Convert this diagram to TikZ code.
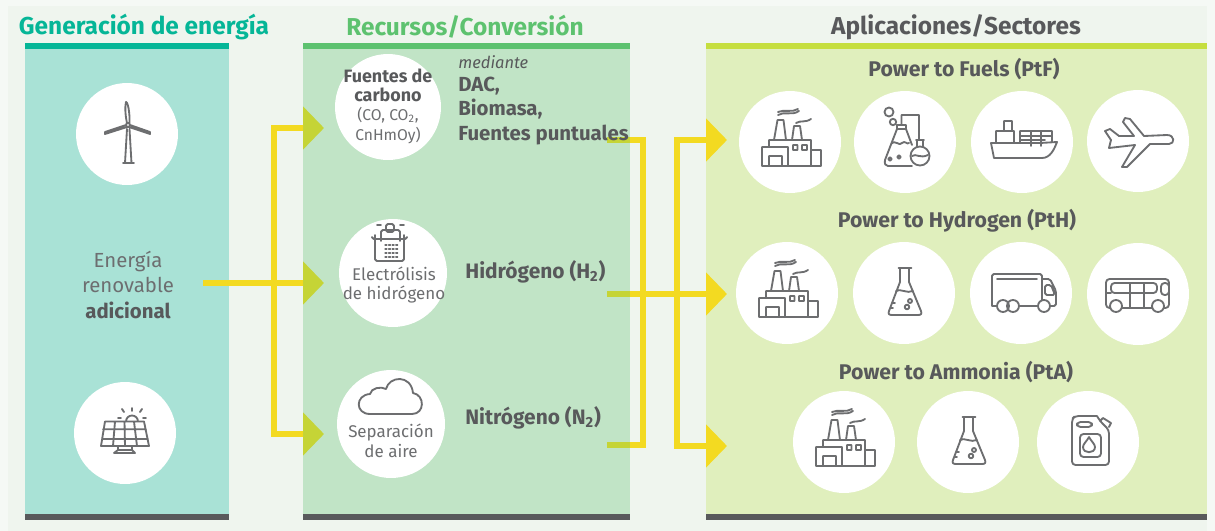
\documentclass[tikz,border=0pt]{standalone}
\usepackage{fontspec}
\setmainfont{Fira Sans}
\usepackage{tikz}
\usetikzlibrary{arrows.meta}
\definecolor{pagebg}{HTML}{F5F9F5}
\definecolor{innerbg}{HTML}{EFF5EE}
\definecolor{genfill}{HTML}{A9E2D6}
\definecolor{genbar}{HTML}{05B697}
\definecolor{convfill}{HTML}{C1E4C6}
\definecolor{convbar}{HTML}{5DC26F}
\definecolor{appfill}{HTML}{E0EFBD}
\definecolor{appbar}{HTML}{C5DE3F}
\definecolor{inkdark}{HTML}{58595B}
\definecolor{inklight}{HTML}{6D6E70}
\definecolor{flowyellow}{HTML}{F3DA21}
\definecolor{flowolive}{HTML}{C5D436}
\tikzset{
    disc/.style={circle, fill=white, minimum size=2.04cm, inner sep=0pt},
    heading/.style={font=\fontsize{13.9}{15}\selectfont\bfseries},
    bodytext/.style={text=inklight, align=center, font=\fontsize{11.6}{14.5}\selectfont},
    smalltext/.style={text=inklight, align=center, font=\fontsize{9.65}{11.2}\selectfont},
    tinytext/.style={text=inklight, align=center, font=\fontsize{8.9}{11}\selectfont},
    boldtext/.style={text=inkdark, anchor=west, inner sep=0pt, font=\fontsize{11.6}{13.9}\selectfont\bfseries},
    rowtitle/.style={text=inkdark, font=\fontsize{12.1}{13}\selectfont\bfseries},
    ink/.style={draw=inklight, line width=1.05pt, line join=round, line cap=round},
    wheel/.style={ink, fill=white},
    flow/.style={draw=flowyellow, line width=3pt},
    stub/.style={draw=flowolive, line width=3pt},
    oliveflow/.style={flow, -{Triangle[length=0.42cm, width=0.84cm, color=flowolive]}},
    yellowflow/.style={flow, -{Triangle[length=0.42cm, width=0.84cm, color=flowyellow]}},
    factory/.pic={
        \draw[ink] (-28,24) -- (-28,5) -- (-21,5) -- (-21,-2) -- (21,-2) -- (21,24) (-2,5) -- (-2,24)
            (-28,5) -- (-2,5) (21,8) -- (31,8) -- (31,24) -- (-28,24)
            (-21,24) -- (-21,14) -- (-8,14) -- (-8,24)
            (3,3) rectangle (7.5,8) (12,3) rectangle (17,8)
            (-16,-2) -- (-12.5,-22) -- (-6.5,-22) -- (-4,-2) (2,-2) -- (4,-16) -- (10,-16) -- (12,-2)
            (-12,-27) .. controls (-6,-31) and (2,-26) .. (9,-31)
            (-12,-30) .. controls (-6,-33) and (2,-29) .. (8,-33)
            (6,-19) .. controls (11,-22) and (15,-19) .. (21,-23);
    },
    flask/.pic={
        \draw[ink] (-5.5,-25) -- (7.5,-25) (-4,-25) -- (-4,-11) -- (-15,18) .. controls (-16,21) and (-15,22) .. (-12,22)
            -- (14,22) .. controls (17,22) and (18,21) .. (17,18) -- (5,-11) -- (5,-25)
            (-8,-2) .. controls (-4,-5) and (3,1) .. (9,-2)
            (-12,10) -- (-9,10) (-14,15) -- (-11,15)
            (6,8) circle[radius=2] (3,14) circle[radius=2.3];
    },
    chemset/.pic={
        \draw[ink] (-16,-30) circle[radius=4.5] (-12,-20) circle[radius=3.2]
            (-3.5,-17) -- (-3.5,-27) -- (14,-27) -- (14,-2)
            (-8,-17) -- (1,-17) -- (1,-13) -- (-8,-13) -- cycle
            (-8,-13) -- (-20,18) .. controls (-21,22) and (-19,24) .. (-17,24) -- (7,24) (1,-13) -- (7,3)
            (-14,2) .. controls (-9,-3) and (-6,5) .. (-3,1) .. controls (0,-2) and (2,3) .. (4,1)
            (-15,17) circle[radius=1.8] (-6,15) circle[radius=1.8];
        \draw[wheel] (15,14) circle[radius=9.5];
        \draw[ink] (11,-2) -- (19,-2) (12,-2) -- (12,5) (18,-2) -- (18,5)
            (7,14) .. controls (11,11) and (15,17) .. (23,13);
    },
    ship/.pic={
        \draw[ink] (-31,1) -- (-28,16) -- (20,16) .. controls (28,16) and (32,8) .. (35,0) -- (18,1) -- cycle
            (-26,1) -- (-26,-11) -- (-8,-11) -- (-8,1) (-18,-11) -- (-18,-21) -- (-10,-21) -- (-10,-11)
            (-2,1) -- (-2,-11) -- (30,-11) -- (30,0) (-2,-6) -- (30,-6) (-2,-2) -- (23,-2)
            (9,-11) -- (9,4) (19,-11) -- (19,4);
    },
    plane/.pic={
        \draw[ink] (-33,-10) -- (-28,-12) -- (-19,-5) -- (-4,-5) -- (-15,-19) -- (-13,-23) -- (-8,-22) -- (6,-5)
            -- (29,-6) .. controls (37,-6) and (37,3) .. (31,3) -- (12,3) -- (-11,26) -- (-16,26) -- (-3,4)
            -- (-29,7) -- (-27,-1) -- cycle;
    },
    truck/.pic={
        \draw[ink, rounded corners=1pt] (-29,13) -- (-29,-19) -- (21,-19) -- (21,13) -- (-29,13)
            (-24,-14) -- (16,-14) (21,-14) -- (29,-14) -- (35,-2) -- (35,13) -- (21,13)
            (24,-8) -- (30,-8) -- (34,2) -- (24,2) -- cycle;
        \draw[wheel] (-18,13) circle[radius=6] (-8,13) circle[radius=6] (23,13) circle[radius=6];
    },
    busicon/.pic={
        \draw[ink, rounded corners=2pt] (-32,14) -- (-32,-15) -- (31,-15) -- (31,14) -- cycle
            (-27,-11) rectangle (19,-1) (23,-11) rectangle (31,1);
        \draw[ink] (-8,-11) -- (-8,14) (6,-11) -- (6,14) (-32,-1) -- (-27,-1);
        \draw[wheel] (-22,12) circle[radius=6] (20,12) circle[radius=6];
    },
    jerrycan/.pic={
        \draw[ink, rounded corners=2pt] (9,-26) -- (-13,-26) -- (-16,-23) -- (-16,23) -- (21,23) -- (21,-12) -- (12,-21) -- (9,-26)
            (-11,-20) rectangle (4,-15) (-8,-8) rectangle (13,15);
        \draw[ink] (12,-21) -- (15,-24) -- (23,-19) -- (21,-15)
            (1,-5) .. controls (-1,-1) and (-5,2) .. (-5,5) .. controls (-5,12) and (7,12) .. (7,5)
            .. controls (7,2) and (3,-1) .. (1,-5);
    },
    windmill/.pic={
        \draw[ink] (-4,29) -- (7,29) (-2,29) -- (0,-5) (4.5,29) -- (2.5,-5)
            (1,-9) circle[radius=2] (0,-11) .. controls (-2,-20) and (-2,-28) .. (-1,-32) .. controls (1,-32) and (3,-20) .. (2.5,-11)
            (-1,-9) -- (-22,-2) -- (-22,0) -- (0,-7) (3,-9) -- (23,-2) -- (23,0) -- (2,-7);
    },
    solarpanel/.pic={
        \draw[ink] (-20,-11.5) -- (19,-11.5) -- (24,13) -- (-24,13) -- cycle
            (-22,-3.7) -- (21,-3.7) (-23,6) -- (23,6)
            (-10,-11.5) -- (-12,13) (-0.5,-11.5) -- (0,13) (9,-11.5) -- (12,13)
            (-7,13) -- (-7,17) -- (7,17) -- (7,13) (-11,20) -- (10,20) -- (7,17) (-11,20) -- (-7,17)
            (1,-11.5) arc[start angle=180, end angle=360, radius=6]
            (7,-25) -- (7,-22) (-3,-24) -- (-1,-21) (17,-24) -- (15,-21) (-7,-15) -- (-4,-15) (21,-15) -- (18,-15);
    },
    electrolyser/.pic={
        \draw[ink, rounded corners=1pt] (-18,-38) -- (-18,-12) -- (11,-12) -- (11,-38)
            (-21,-36) -- (-21,-34) -- (14,-34) -- (14,-36)
            (-12,-32) -- (-12,-43) -- (7,-43) -- (7,-32)
            (-7,-49) rectangle (1,-41);
        \draw[ink, densely dotted, line width=0.7pt] (-8,-28) -- (5,-28) (-8,-24) -- (5,-24) (-8,-20) -- (5,-20) (-8,-16) -- (5,-16);
        \draw[ink] (-16,-48) -- (-12,-48) (7,-48) -- (11,-48);
    },
    cloudicon/.pic={
        \draw[ink] (-21,-10) .. controls (-36,-10) and (-36,-29) .. (-21,-30) .. controls (-20,-36) and (-10,-38) .. (-5,-35)
            .. controls (-2,-48) and (20,-50) .. (22,-31) .. controls (34,-29) and (34,-10) .. (21,-10) -- cycle;
    },
}
\begin{document}
\begin{tikzpicture}[x=0.02cm, y=-0.02cm]
    \useasboundingbox (0,0) rectangle (1215,531);
    \fill[pagebg] (0,0) rectangle (1215,531);
    \fill[innerbg] (8,6) rectangle (1207,531);

    \fill[genfill] (25,43) rectangle (229,520);
    \fill[convfill] (303,43) rectangle (630,520);
    \fill[appfill] (706,43) rectangle (1207,520);
    \fill[genbar] (25,43) rectangle (229,49);
    \fill[convbar] (303,43) rectangle (630,49);
    \fill[appbar] (706,43) rectangle (1207,49);
    \fill[inkdark] (25,514) rectangle (229,520);
    \fill[inkdark] (303,514) rectangle (630,520);
    \fill[inkdark] (706,514) rectangle (1207,520);

    \node[heading, text=genbar](genhead)    at (144,27) {Generación de energía};
    \node[heading, text=convbar](convhead)  at (465,27) {Recursos/Conversión};
    \node[heading, text=inkdark](apphead)   at (956,27) {Aplicaciones/Sectores};

    \coordinate (src)    at (203,283);
    \coordinate (junL)   at (274,283);
    \coordinate (inC)    at (324,128);
    \coordinate (inH)    at (324,283);
    \coordinate (inA)    at (324,434);
    \coordinate (outC)   at (607,140);
    \coordinate (outH)   at (607,294);
    \coordinate (outN)   at (607,445);
    \coordinate (edgeC)  at (630,140);
    \coordinate (edgeH)  at (630,294);
    \coordinate (edgeN)  at (630,445);
    \coordinate (junM)   at (643,294);
    \coordinate (junR)   at (677,294);
    \coordinate (inPtF)  at (727,140);
    \coordinate (inPtH)  at (727,294);
    \coordinate (inPtA)  at (727,446);

    \draw[oliveflow] (src) -- (inH);
    \draw[oliveflow] (junL) |- (inC);
    \draw[oliveflow] (junL) |- (inA);
    \draw[flow] (outC) -| (junM) |- (outN);
    \draw[yellowflow] (outH) -- (inPtH);
    \draw[yellowflow] (junR) |- (inPtF);
    \draw[yellowflow] (junR) |- (inPtA);
    \draw[stub] (outC) -- (edgeC);
    \draw[stub] (outH) -- (edgeH);
    \draw[stub] (outN) -- (edgeN);

    \node[disc](wind)  at (127,134) {};
    \node[disc](solar) at (125,433) {};
    \pic at (wind) {windmill};
    \pic at (solar) {solarpanel};
    \node[bodytext](energia) at (128,285) {Energía\\renovable\\\textbf{\textcolor{inkdark}{adicional}}};

    \node[disc, minimum size=2.12cm](carbon)  at (388,107) {};
    \node[disc, minimum size=2.16cm](electro) at (393,273) {};
    \node[disc, minimum size=2.16cm](air)     at (391,424) {};
    \pic at (electro) {electrolyser};
    \pic at (air) {cloudicon};
    \node[tinytext](carbontext) at (388,106)
        {\textbf{\textcolor{inkdark}{\fontsize{10.2}{11}\selectfont Fuentes de}}\\\textbf{\textcolor{inkdark}{\fontsize{10.2}{11}\selectfont carbono}}\\(CO, CO\textsubscript{2},\\CnHmOy)};
    \node[smalltext](electrotext) at (394,285) {Electrólisis\\de hidrógeno};
    \node[smalltext](airtext)     at (391,441) {Separación\\de aire};

    \node[text=inkdark, anchor=west, inner sep=0pt, font=\fontsize{9.4}{11}\selectfont\itshape](via) at (458,62) {mediante};
    \node[boldtext, align=left](dac) at (458,111) {DAC,\\Biomasa,\\Fuentes puntuales};
    \node[boldtext, font=\fontsize{11.9}{13.7}\selectfont\bfseries](hydro)  at (465,272) {Hidrógeno (H\textsubscript{2})};
    \node[boldtext, font=\fontsize{11.9}{13.7}\selectfont\bfseries](nitro)  at (465,418) {Nitrógeno (N\textsubscript{2})};

    \node[rowtitle](ptf) at (964,69)  {Power to Fuels (PtF)};
    \node[rowtitle](pth) at (957,221) {Power to Hydrogen (PtH)};
    \node[rowtitle](pta) at (956,372) {Power to Ammonia (PtA)};

    \node[disc](fuelA)  at (790,142)  {};
    \node[disc](fuelB)  at (905,142)  {};
    \node[disc](fuelC)  at (1022,142) {};
    \node[disc](fuelD)  at (1138,141) {};
    \node[disc](hydroA) at (787,293)  {};
    \node[disc](hydroB) at (904,293)  {};
    \node[disc](hydroC) at (1021,293) {};
    \node[disc](hydroD) at (1138,294) {};
    \node[disc](ammoA)  at (844,442)  {};
    \node[disc](ammoB)  at (968,442)  {};
    \node[disc](ammoC)  at (1088,442) {};

    \pic at (fuelA) {factory};
    \pic at (fuelB) {chemset};
    \pic at (fuelC) {ship};
    \pic at (fuelD) {plane};
    \pic at (hydroA) {factory};
    \pic at (hydroB) {flask};
    \pic at (hydroC) {truck};
    \pic at (hydroD) {busicon};
    \pic at (ammoA) {factory};
    \pic at (ammoB) {flask};
    \pic at (ammoC) {jerrycan};
\end{tikzpicture}
\end{document}
